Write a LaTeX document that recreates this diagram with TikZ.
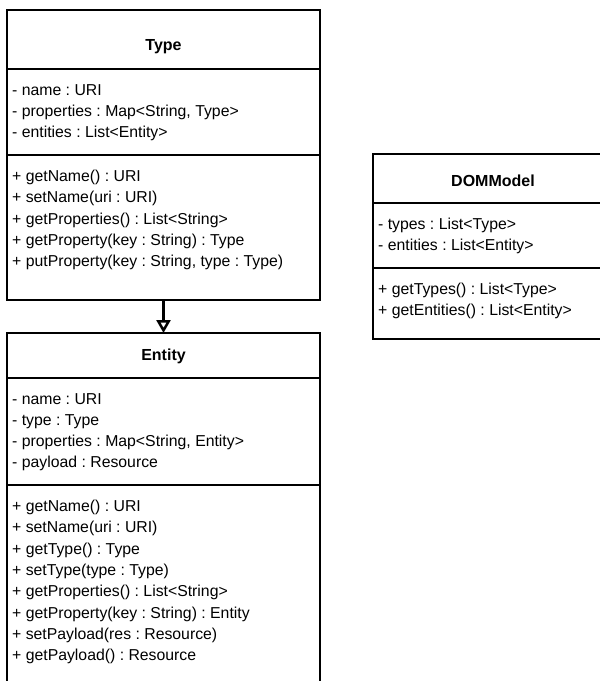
\documentclass[tikz,border=0pt]{standalone}
\usepackage{fontspec}
\setmainfont{Liberation Sans}
\usetikzlibrary{positioning,arrows.meta}
\frenchspacing

\begin{document}
\begin{tikzpicture}[x=1pt, y=-1pt,
  box/.style={draw, line width=2.5pt, inner sep=0pt, outer sep=0pt},
  classtitle/.style={font=\fontsize{16}{19}\selectfont\bfseries},
  members/.style={anchor=north west, align=left, inner sep=0pt, font=\fontsize{15.8}{21.3}\selectfont}]

  % page frame
  \useasboundingbox (0,0) rectangle (600,681);
  \clip (0,0) rectangle (600,681);

  % box properties
  \def\classwidth{313}  % width of Type and Entity
  \def\domwidth{240}  % width of DOMModel
  \def\titleup{22}  % title above bottom of header

  % Type class
  \node[box, minimum width=\classwidth, minimum height=59, anchor=north] (typehead) at (163.5,10) {};
  \node[box, minimum width=\classwidth, minimum height=86, below=0pt of typehead] (typeattr) {};
  \node[box, minimum width=\classwidth, minimum height=145, below=0pt of typeattr] (typemeth) {};
  \node[classtitle] (typetitle) at ([yshift=\titleup]typehead.south) {Type};
  \node[members] (typeattrtxt) at ([xshift=5, yshift=-15]typeattr.north west)
    {- name : URI\\- properties : Map<String, Type>\\- entities : List<Entity>};
  \node[members] (typemethtxt) at ([xshift=5, yshift=-15]typemeth.north west)
    {+ getName() : URI\\+ setName(uri : URI)\\+ getProperties() : List<String>\\
     + getProperty(key : String) : Type\\+ putProperty(key : String, type : Type)};

  % Entity class
  \node[box, minimum width=\classwidth, minimum height=45, anchor=north] (entityhead) at (163.5,333) {};
  \node[box, minimum width=\classwidth, minimum height=107, below=0pt of entityhead] (entityattr) {};
  \node[box, minimum width=\classwidth, minimum height=230, below=0pt of entityattr] (entitymeth) {};
  \node[classtitle] (entitytitle) at ([yshift=\titleup]entityhead.south) {Entity};
  \node[members] (entityattrtxt) at ([xshift=5, yshift=-15]entityattr.north west)
    {- name : URI\\- type : Type\\- properties : Map<String, Entity>\\- payload : Resource};
  \node[members] (entitymethtxt) at ([xshift=5, yshift=-15]entitymeth.north west)
    {+ getName() : URI\\+ setName(uri : URI)\\+ getType() : Type\\+ setType(type : Type)\\
     + getProperties() : List<String>\\+ getProperty(key : String) : Entity\\
     + setPayload(res : Resource)\\+ getPayload() : Resource};

  % DOMModel class
  \node[box, minimum width=\domwidth, minimum height=49, anchor=north west] (domhead) at (373,154) {};
  \node[box, minimum width=\domwidth, minimum height=65, below=0pt of domhead] (domattr) {};
  \node[box, minimum width=\domwidth, minimum height=71, below=0pt of domattr] (dommeth) {};
  \node[classtitle] (domtitle) at ([yshift=\titleup]domhead.south) {DOMModel};
  \node[members] (domattrtxt) at ([xshift=5, yshift=-15]domattr.north west)
    {- types : List<Type>\\- entities : List<Entity>};
  \node[members] (dommethtxt) at ([xshift=5, yshift=-15]dommeth.north west)
    {+ getTypes() : List<Type>\\+ getEntities() : List<Entity>};

  % generalization arrow
  \draw[line width=2.5pt, -{Triangle[open, length=13pt, width=14pt]}] (typemeth.south) -- (entityhead.north);

\end{tikzpicture}
\end{document}
